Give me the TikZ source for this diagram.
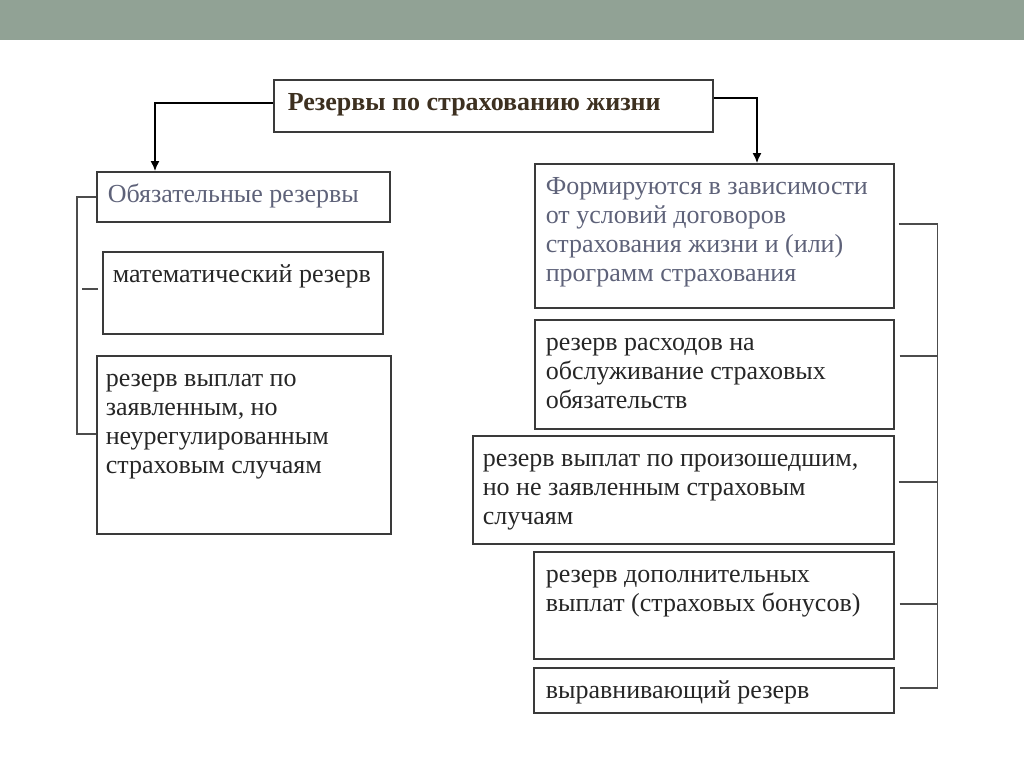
\documentclass[tikz,border=0pt]{standalone}
\usepackage{fontspec}
\setmainfont{Liberation Serif}
\usepackage{xcolor}
\usepackage{tikz}
\usetikzlibrary{arrows.meta}

\definecolor{barc}{HTML}{91A295}
\definecolor{boxc}{HTML}{3A3A3A}
\definecolor{bluegr}{HTML}{5E6279}
\definecolor{brownc}{HTML}{3D3020}

\tikzset{
  blok/.style={draw=boxc, line width=0.8pt, anchor=north west, inner xsep=5pt, inner ysep=5pt,
    font=\fontsize{13}{14.5}\selectfont, text=black!85},
  arr/.style={-{Latex[length=5pt,width=4.5pt]}, line width=0.7pt, black},
  brk/.style={line width=0.8pt, black!70}
}

\begin{document}
\begin{tikzpicture}[x=0.5pt, y=-0.5pt]
    \useasboundingbox (0,0) rectangle (1024,768);
    \fill [barc] (0,0) rectangle (1024,40);

    % head
    \node [blok, inner xsep=7pt, text=brownc, font=\fontsize{13}{14.5}\selectfont\bfseries] (top) at (273,79)
        {\parbox[b][16pt][t]{205.5pt}{\strut Резервы по страхованию жизни}};

    % left column
    \node [blok, inner xsep=5.5pt, text=bluegr] (obyaz) at (96,171)
        {\parbox[b][15pt][t]{135.5pt}{\strut Обязательные резервы}};
    \node [blok] (matem) at (102,251)
        {\parbox[b][31pt][t]{130pt}{\strut математический резерв}};
    \node [blok, inner xsep=4.5pt] (zayavl) at (96,355)
        {\parbox[b][79pt][t]{138pt}{\raggedright\strut резерв выплат по\\заявленным, но\\неурегулированным\\страховым случаям}};

    % right column
    \node [blok, inner xsep=5.5pt, text=bluegr] (form) at (534,163)
        {\parbox[b][62pt][t]{168.5pt}{\raggedright\strut Формируются в зависимости\\от условий договоров\\страхования жизни и (или)\\программ страхования}};
    \node [blok, inner xsep=5.5pt] (rash) at (534,319)
        {\parbox[b][44.5pt][t]{168.5pt}{\raggedright\strut резерв расходов на\\обслуживание страховых\\обязательств}};
    \node [blok] (proizosh) at (472,435)
        {\parbox[b][44pt][t]{200.5pt}{\raggedright\strut резерв выплат по произошедшим,\\но не заявленным страховым\\случаям}};
    \node [blok, inner xsep=6pt] (dopol) at (533,551)
        {\parbox[b][43.5pt][t]{168pt}{\raggedright\strut резерв дополнительных\\выплат (страховых бонусов)}};
    \node [blok, inner xsep=6pt] (vyrav) at (533,667)
        {\parbox[b][12.5pt][t]{168pt}{\strut выравнивающий резерв}};

    % arrows from the head
    \draw [arr] ([yshift=1.5pt]top.west) -| ([xshift=29.5pt]obyaz.north west);
    \draw [arr] ([yshift=4pt]top.east) -| ([xshift=111.5pt]form.north west);

    % left bracket
    \draw [brk] (obyaz.west) -- ++(-19,0) |- ([yshift=5.5pt]zayavl.west);
    \draw [brk] ([xshift=-2pt,yshift=2pt]matem.west) -- ++(-16,0);

    % right bracket
    \draw [brk] ([xshift=2pt,yshift=6pt]form.east) -- ++(39,0) |- ([xshift=2.5pt,yshift=1.25pt]vyrav.east);
    \draw [brk] ([xshift=2.5pt,yshift=9.25pt]rash.east) -- ++(38,0);
    \draw [brk] ([xshift=2pt,yshift=4pt]proizosh.east) -- ++(39,0);
    \draw [brk] ([xshift=2.5pt,yshift=0.75pt]dopol.east) -- ++(38,0);
\end{tikzpicture}
\end{document}
